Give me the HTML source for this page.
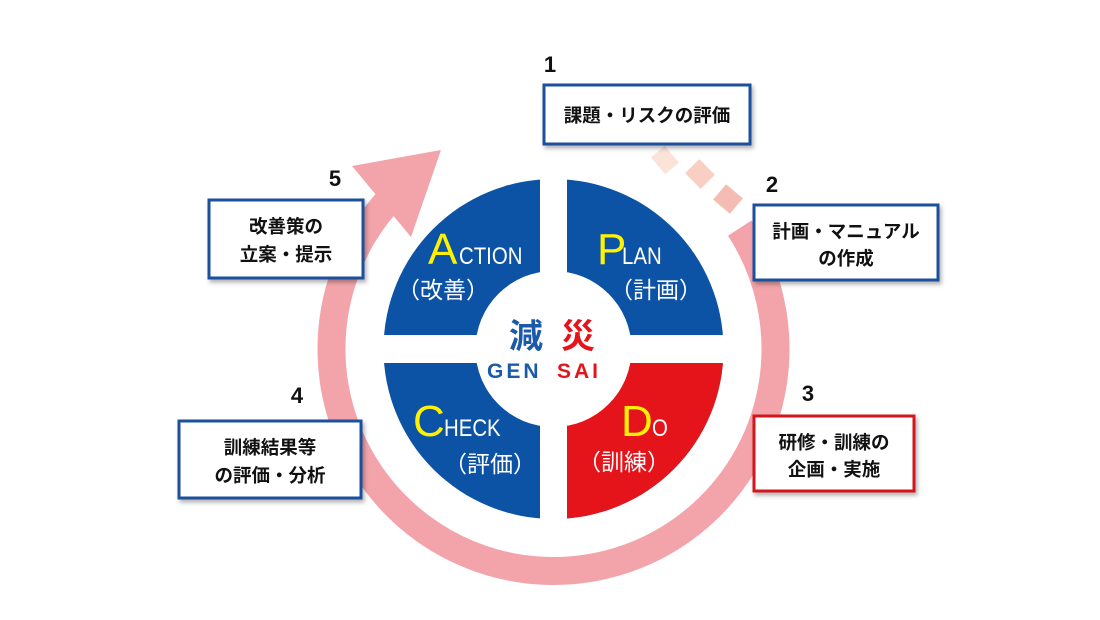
<!DOCTYPE html>
<html><head><meta charset="utf-8"><style>
html,body{margin:0;padding:0;background:#fff;}
svg{display:block;}
.jp{font-family:"Liberation Sans","Noto Sans CJK JP",sans-serif;}
</style></head><body>
<svg width="1100" height="620" viewBox="0 0 1100 620" xmlns="http://www.w3.org/2000/svg" class="jp">
<defs>
<filter id="sh" x="-10%" y="-10%" width="130%" height="140%"><feDropShadow dx="2" dy="3" stdDeviation="2" flood-color="#000" flood-opacity="0.3"/></filter>
<clipPath id="q4"><rect x="553.5" y="349" width="200" height="200"/></clipPath>
</defs>
<path d="M 739.7 228.1 A 222 222 0 1 1 385.9 203.4" fill="none" stroke="#f3a4aa" stroke-width="28"/>
<polygon points="352,166 441,150 411,237" fill="#f3a4aa"/>
<g>
<rect x="-9" y="-11" width="18" height="22" fill="#fbe3da" transform="translate(665,160) rotate(-40)"/>
<rect x="-10" y="-11" width="20" height="22" fill="#f8cfc2" transform="translate(700,174) rotate(-45)"/>
<rect x="-10" y="-11" width="20" height="22" fill="#f4bcb3" transform="translate(728,199) rotate(-50)"/>
</g>
<circle cx="553.5" cy="349" r="170" fill="#0d53a5"/>
<circle cx="553.5" cy="349" r="170" fill="#e5141b" clip-path="url(#q4)"/>
<circle cx="553.5" cy="349" r="78" fill="#fff"/>
<rect x="540" y="175" width="27" height="348" fill="#fff"/>
<rect x="380" y="335" width="348" height="28" fill="#fff"/>
<g font-family="Liberation Sans, sans-serif">
<text x="428" y="264" font-size="44" fill="#fff200">A</text>
<text x="459" y="264" font-size="24" fill="#fff" transform="translate(459 264) scale(0.85 1) translate(-459 -264)">CTION</text>
<text x="597" y="264" font-size="44" fill="#fff200">P</text>
<text x="622" y="264" font-size="24" fill="#fff" transform="translate(622 264) scale(0.85 1) translate(-622 -264)">LAN</text>
<text x="413" y="436" font-size="44" fill="#fff200">C</text>
<text x="444" y="436" font-size="24" fill="#fff" transform="translate(444 436) scale(0.85 1) translate(-444 -436)">HECK</text>
<text x="621" y="436" font-size="44" fill="#fff200">D</text>
<text x="652" y="436" font-size="24" fill="#fff" transform="translate(652 436) scale(0.85 1) translate(-652 -436)">O</text>
</g>
<g font-size="23" fill="#fff" text-anchor="middle">
<text x="443" y="298">（改善）</text>
<text x="656" y="298">（計画）</text>
<text x="490" y="472">（評価）</text>
<text x="624" y="470">（訓練）</text>
</g>
<text x="526" y="348" font-size="34" font-weight="bold" fill="#1a5aa8" text-anchor="middle">減</text>
<text x="578" y="348" font-size="34" font-weight="bold" fill="#e5141b" text-anchor="middle">災</text>
<text x="487" y="378" font-size="21" font-weight="bold" fill="#1a5aa8" font-family="Liberation Sans, sans-serif" letter-spacing="3">GEN</text>
<text x="557" y="378" font-size="21" font-weight="bold" fill="#e5141b" font-family="Liberation Sans, sans-serif" letter-spacing="3">SAI</text>
<g fill="#fff" stroke-width="3" filter="url(#sh)">
<rect x="544" y="85" width="206" height="59" stroke="#1a4f9c"/>
<rect x="754" y="205" width="184" height="75" stroke="#1a4f9c"/>
<rect x="754" y="416" width="160" height="75" stroke="#d4141f"/>
<rect x="179" y="421" width="182" height="77" stroke="#1a4f9c"/>
<rect x="209" y="200" width="154" height="78" stroke="#1a4f9c"/>
</g>
<g font-size="18.5" font-weight="bold" fill="#111" text-anchor="middle">
<text x="647" y="122">課題・リスクの評価</text>
<text x="846" y="238">計画・マニュアル</text>
<text x="846" y="265">の作成</text>
<text x="834" y="449">研修・訓練の</text>
<text x="834" y="476">企画・実施</text>
<text x="270" y="454">訓練結果等</text>
<text x="270" y="482">の評価・分析</text>
<text x="286" y="233">改善策の</text>
<text x="286" y="261">立案・提示</text>
</g>
<g font-size="22" font-weight="bold" fill="#111" text-anchor="middle" font-family="Liberation Sans, sans-serif">
<text x="550" y="72">1</text>
<text x="772" y="192">2</text>
<text x="808" y="401">3</text>
<text x="297" y="403">4</text>
<text x="335" y="186">5</text>
</g>
</svg>
</body></html>
